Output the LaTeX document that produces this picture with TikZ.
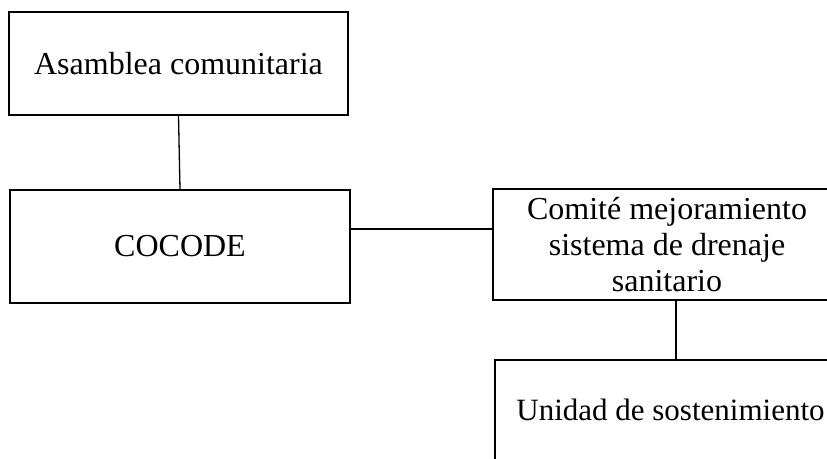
\documentclass[tikz,border=0pt]{standalone}
\usepackage{fontspec}
\setmainfont{Liberation Serif}
\begin{document}
\begin{tikzpicture}[x=1pt,y=1pt,
  orgbox/.style={draw=black, line width=1.3pt, inner sep=0pt, align=center,
    font=\fontsize{32}{36}\selectfont},
  link/.style={draw=black, line width=1.3pt}]
\useasboundingbox (0,0) rectangle (827,-458);
\clip (0,0) rectangle (827,-458);
\node[orgbox, minimum width=339pt, minimum height=103pt] (asam) at (178.5,-63.5) {Asamblea comunitaria};
\node[orgbox, minimum width=340pt, minimum height=113pt] (cocode) at (180,-246.5) {COCODE};
\node[orgbox, minimum width=348pt, minimum height=111pt] (comite) at (667,-244.5) {Comité mejoramiento\\sistema de drenaje\\sanitario};
\node[orgbox, font=\fontsize{31}{36}\selectfont, minimum width=351pt, minimum height=100pt] (unidad) at (670.5,-410) {Unidad de sostenimiento};
\coordinate (hy) at (420,-229);
\coordinate (vx) at (676,-330);
\path[link] (asam.south) -- (cocode.north);
\path[link] (cocode.east |- hy) -- (comite.west |- hy);
\path[link] (comite.south -| vx) -- (unidad.north -| vx);
\end{tikzpicture}
\end{document}
